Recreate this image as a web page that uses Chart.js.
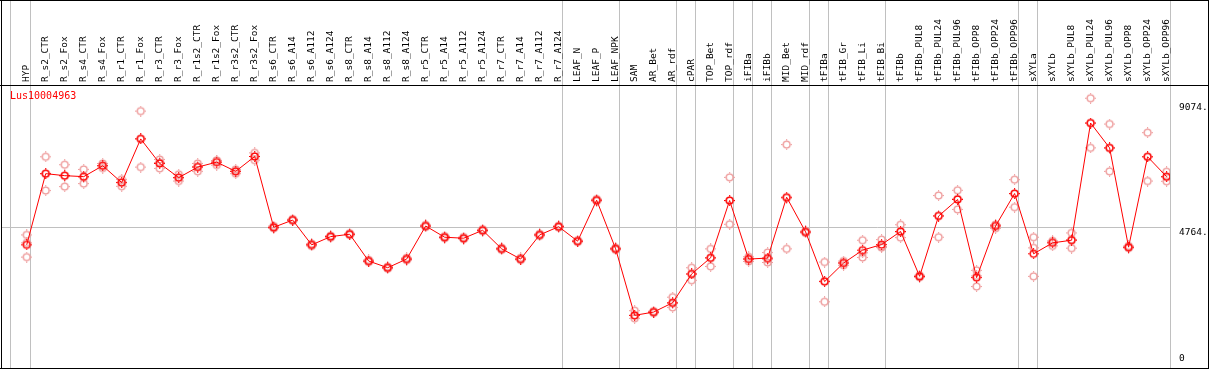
<!DOCTYPE html>
<html>
<head>
<meta charset="utf-8">
<script src="https://cdn.jsdelivr.net/npm/chart.js@4.4.1/dist/chart.umd.min.js"></script>
<style>
  html, body { margin: 0; padding: 0; background: #fff; }
  canvas { display: block; }
</style>
</head>
<body>
<canvas id="myChart" width="1209" height="370"></canvas>
<script>
const geneName = 'Lus10004963';

const categories = [
  'HYP', 'R_s2_CTR', 'R_s2_Fox', 'R_s4_CTR', 'R_s4_Fox', 'R_r1_CTR', 'R_r1_Fox', 'R_r3_CTR', 'R_r3_Fox',
  'R_r1s2_CTR', 'R_r1s2_Fox', 'R_r3s2_CTR', 'R_r3s2_Fox', 'R_s6_CTR', 'R_s6_A14', 'R_s6_A112', 'R_s6_A124',
  'R_s8_CTR', 'R_s8_A14', 'R_s8_A112', 'R_s8_A124', 'R_r5_CTR', 'R_r5_A14', 'R_r5_A112', 'R_r5_A124',
  'R_r7_CTR', 'R_r7_A14', 'R_r7_A112', 'R_r7_A124', 'LEAF_N', 'LEAF_P', 'LEAF_NPK', 'SAM', 'AR_Bet', 'AR_rdf',
  'cPAR', 'TOP_Bet', 'TOP_rdf', 'iFIBa', 'iFIBb', 'MID_Bet', 'MID_rdf', 'tFIBa', 'tFIB_Gr', 'tFIB_Li', 'tFIB_Bi',
  'tFIBb', 'tFIBb_PUL8', 'tFIBb_PUL24', 'tFIBb_PUL96', 'tFIBb_OPP8', 'tFIBb_OPP24', 'tFIBb_OPP96',
  'sXYLa', 'sXYLb', 'sXYLb_PUL8', 'sXYLb_PUL24', 'sXYLb_PUL96', 'sXYLb_OPP8', 'sXYLb_OPP24', 'sXYLb_OPP96'
];

// mean expression per sample
const meanValues = [
  4149, 6608, 6539, 6505, 6882, 6299, 7808, 6961, 6471, 6834, 7006, 6687, 7201,
  4756, 5006, 4149, 4434, 4516, 3590, 3360, 3659, 4801, 4413, 4379, 4653, 4012, 3659, 4492, 4777,
  4276, 5692, 4012, 1715, 1828, 2150, 3144, 3703, 5682, 3659, 3693, 5795, 4595,
  2880, 3522, 3967, 4159, 4612, 3062, 5144, 5716, 3018, 4801, 5922,
  3840, 4218, 4310, 8357, 7499, 4070, 7191, 6505
];

// replicates
const rep1 = [
  4492, 7191, 6916, 6755, 6961, 6412, 8768, 7098, 6584, 6961, 7053, 6755, 7328,
  4800, 5040, 4190, 4470, 4550, 3630, 3400, 3700, 4840, 4450, 4420, 4690, 4050, 3700, 4530, 4810,
  4310, 5730, 4050, 1876, 1860, 2342, 3360, 4012, 6481, 3577, 3885, 7612, 4630,
  3556, 3590, 4310, 4331, 4845, 3100, 5853, 6035, 3268, 4722, 6402,
  4413, 4115, 4561, 9214, 8322, 4110, 8024, 6676
];
const rep2 = [
  3727, 6025, 6162, 6265, 6800, 6172, 6834, 6789, 6354, 6687, 6903, 6608, 7074,
  4720, 4980, 4110, 4400, 4490, 3560, 3330, 3620, 4770, 4380, 4350, 4620, 3980, 3630, 4460, 4750,
  4250, 5660, 3980, 1612, 1800, 1989, 2925, 3405, 4859, 3668, 3542, 4012, 4560,
  2184, 3446, 3714, 4091, 4399, 3030, 4413, 5373, 2709, 4835, 5452,
  4046, 4252, 4036, 7499, 6687, 4040, 6354, 6344
];
const rep3 = [
  4218, 6608, 6539, 6491, 6882, 6310, 7819, 6995, 6471, 6858, 7064, 6697, 7201,
  4750, 5000, 4150, 4430, 4510, 3580, 3350, 3660, 4790, 4410, 4370, 4650, 4010, 3650, 4490, 4770,
  4270, 5690, 4010, 1715, 1825, 2126, 3144, 3693, 5672, 3737, 3652, 5761, 4595,
  2901, 3532, 3876, 4057, 4595, 3056, 5164, 5740, 3076, 4845, 5912,
  3062, 4286, 4334, 8357, 7489, 4060, 7194, 6494
];

const yTicks = [0, 4764, 9074];
// last sample index of each group (grey separators)
const groupEnds = [0, 28, 31, 34, 35, 37, 38, 39, 41, 42, 45, 52, 53, 60];

function makeMarker(color) {
  const c = document.createElement('canvas');
  c.width = 11; c.height = 11;
  const g = c.getContext('2d');
  g.strokeStyle = color;
  g.lineWidth = 1.4;
  g.beginPath();
  g.arc(5.5, 5.5, 3.4, 0, Math.PI * 2);
  g.stroke();
  g.fillStyle = color;
  g.fillRect(5, 0, 1, 1.5);
  g.fillRect(5, 9.5, 1, 1.5);
  g.fillRect(0, 5, 1.5, 1);
  g.fillRect(9.5, 5, 1.5, 1);
  return c;
}

const meanMarker = makeMarker('#ff0000');
const repMarker = makeMarker('#ee9a9a');
const toPoints = (arr) => arr.map((v, i) => ({ x: i, y: v }));

const framePlugin = {
  id: 'frame',
  beforeDraw(chart) {
    const { ctx, chartArea, scales } = chart;
    const xs = scales.x, ys = scales.y;
    ctx.save();
    ctx.fillStyle = '#fff';
    ctx.fillRect(0, 0, chart.width, chart.height);
    ctx.strokeStyle = '#c0c0c0';
    ctx.lineWidth = 1;
    ctx.beginPath();
    const lx = Math.round(chartArea.left) + 0.5;
    ctx.moveTo(lx, 0); ctx.lineTo(lx, 368);
    groupEnds.forEach(g => {
      const x = Math.round(xs.getPixelForValue(g + 0.19)) + 0.5;
      ctx.moveTo(x, 0); ctx.lineTo(x, 368);
    });
    const gy = Math.round(ys.getPixelForValue(4764)) + 0.5;
    ctx.moveTo(1, gy); ctx.lineTo(chartArea.right, gy);
    ctx.stroke();
    ctx.fillStyle = '#000';
    ctx.fillRect(0, 0, 1209, 1);
    ctx.fillRect(1, 0, 1, 369);
    ctx.fillRect(1208, 0, 1, 369);
    ctx.fillRect(0, 368, 1209, 1);
    ctx.fillRect(0, 85, 1209, 1);
    ctx.restore();
  },
  afterDraw(chart) {
    const { ctx, chartArea, scales } = chart;
    ctx.save();
    ctx.font = '10px "DejaVu Sans Mono"';
    ctx.fillStyle = '#ff0000';
    ctx.textBaseline = 'top';
    ctx.fillText(geneName, 10, 91);
    ctx.font = '9.5px "DejaVu Sans Mono"';
    ctx.fillStyle = '#000';
    yTicks.forEach(t => {
      const y = scales.y.getPixelForValue(t);
      if (t === 0) {
        ctx.textBaseline = 'bottom';
        ctx.fillText('0', chartArea.right + 9, y - 2);
      } else {
        ctx.textBaseline = 'top';
        ctx.fillText(t + '.', chartArea.right + 9, y + 1);
      }
    });
    ctx.restore();
  }
};

const ctx = document.getElementById('myChart').getContext('2d');
const myChart = new Chart(ctx, {
  type: 'scatter',
  data: {
    datasets: [
      {
        label: 'mean',
        data: toPoints(meanValues),
        showLine: true,
        borderColor: '#ff0000',
        borderWidth: 1,
        pointStyle: meanMarker,
        pointRadius: 4,
      },
      { label: 'rep1', data: toPoints(rep1), showLine: false, pointStyle: repMarker, pointRadius: 4 },
      { label: 'rep2', data: toPoints(rep2), showLine: false, pointStyle: repMarker, pointRadius: 4 },
      { label: 'rep3', data: toPoints(rep3), showLine: false, pointStyle: repMarker, pointRadius: 4 },
    ],
  },
  options: {
    responsive: false,
    animation: false,
    devicePixelRatio: 1,
    layout: { padding: { left: 10, right: 39, top: 0, bottom: 3 } },
    plugins: { legend: { display: false }, tooltip: { enabled: false } },
    scales: {
      x: {
        type: 'linear',
        position: 'top',
        min: -0.88,
        max: 60.18,
        afterBuildTicks: (s) => { s.ticks = categories.map((c, i) => ({ value: i })); },
        afterFit: (s) => { s.height = 85; },
        grid: { display: false, drawTicks: false },
        border: { display: false },
        ticks: {
          autoSkip: false,
          minRotation: 90,
          maxRotation: 90,
          padding: 3,
          labelOffset: 11,
          color: '#000',
          font: { family: 'DejaVu Sans Mono', size: 9.5 },
          callback: (v) => categories[v],
        },
      },
      y: {
        type: 'linear',
        min: 0,
        max: 9670,
        display: false,
      },
    },
  },
  plugins: [framePlugin],
});
</script>
</body>
</html>
